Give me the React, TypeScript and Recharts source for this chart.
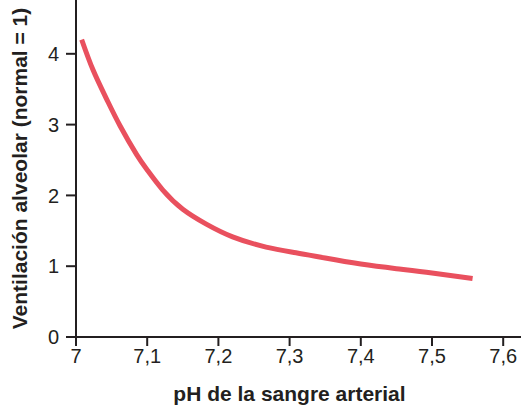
import { LineChart, Line, XAxis, YAxis } from "recharts";

// pH de la sangre arterial vs ventilación alveolar (normal = 1)
const phValues = [
  7.008, 7.024, 7.043, 7.062, 7.085, 7.1, 7.122, 7.15, 7.183, 7.22, 7.267, 7.309, 7.35, 7.4,
  7.45, 7.5, 7.557,
];
const ventilation = [
  4.2, 3.77, 3.36, 2.98, 2.58, 2.36, 2.075, 1.805, 1.595, 1.415, 1.27, 1.19, 1.115, 1.03, 0.965,
  0.905, 0.826,
];
const xTicks = [7, 7.1, 7.2, 7.3, 7.4, 7.5, 7.6];
const yTicks = [0, 1, 2, 3, 4];

const chartData = phValues.map((ph, i) => ({ ph, v: ventilation[i] }));

const ink = "#231f20";
const font = "'Liberation Sans', Arial, sans-serif";

const fmt = (n: number) => String(n).replace(".", ",");

export default function App() {
  return (
    <div style={{ position: "absolute", left: 0, top: 0, fontFamily: font }}>
      <LineChart
        width={521}
        height={410}
        data={chartData}
        margin={{ top: 0, right: 0, left: 0, bottom: 0 }}
      >
        <XAxis
          dataKey="ph"
          type="number"
          domain={[7, 7.625]}
          ticks={xTicks}
          allowDataOverflow
          tickFormatter={fmt}
          height={73}
          tickSize={9}
          tickMargin={3}
          stroke={ink}
          strokeWidth={2}
          tick={{ fontSize: 20, fill: ink, fontFamily: font }}
          label={{
            value: "pH de la sangre arterial",
            position: "insideBottom",
            offset: 9,
            dx: -9,
            style: { fontSize: 21, fontWeight: 700, fill: ink, fontFamily: font },
          }}
        />
        <YAxis
          type="number"
          domain={[0, 4.76]}
          ticks={yTicks}
          allowDataOverflow
          width={76}
          tickSize={10}
          tickMargin={7}
          stroke={ink}
          strokeWidth={2}
          tick={{ fontSize: 20, fill: ink, fontFamily: font }}
          label={{
            value: "Ventilación alveolar (normal = 1)",
            angle: -90,
            position: "insideLeft",
            offset: 20,
            style: { fontSize: 21, fontWeight: 700, fill: ink, fontFamily: font, textAnchor: "middle" },
          }}
        />
        <Line
          type="natural"
          dataKey="v"
          stroke="#e9505e"
          strokeWidth={5}
          dot={false}
          isAnimationActive={false}
        />
      </LineChart>
    </div>
  );
}
